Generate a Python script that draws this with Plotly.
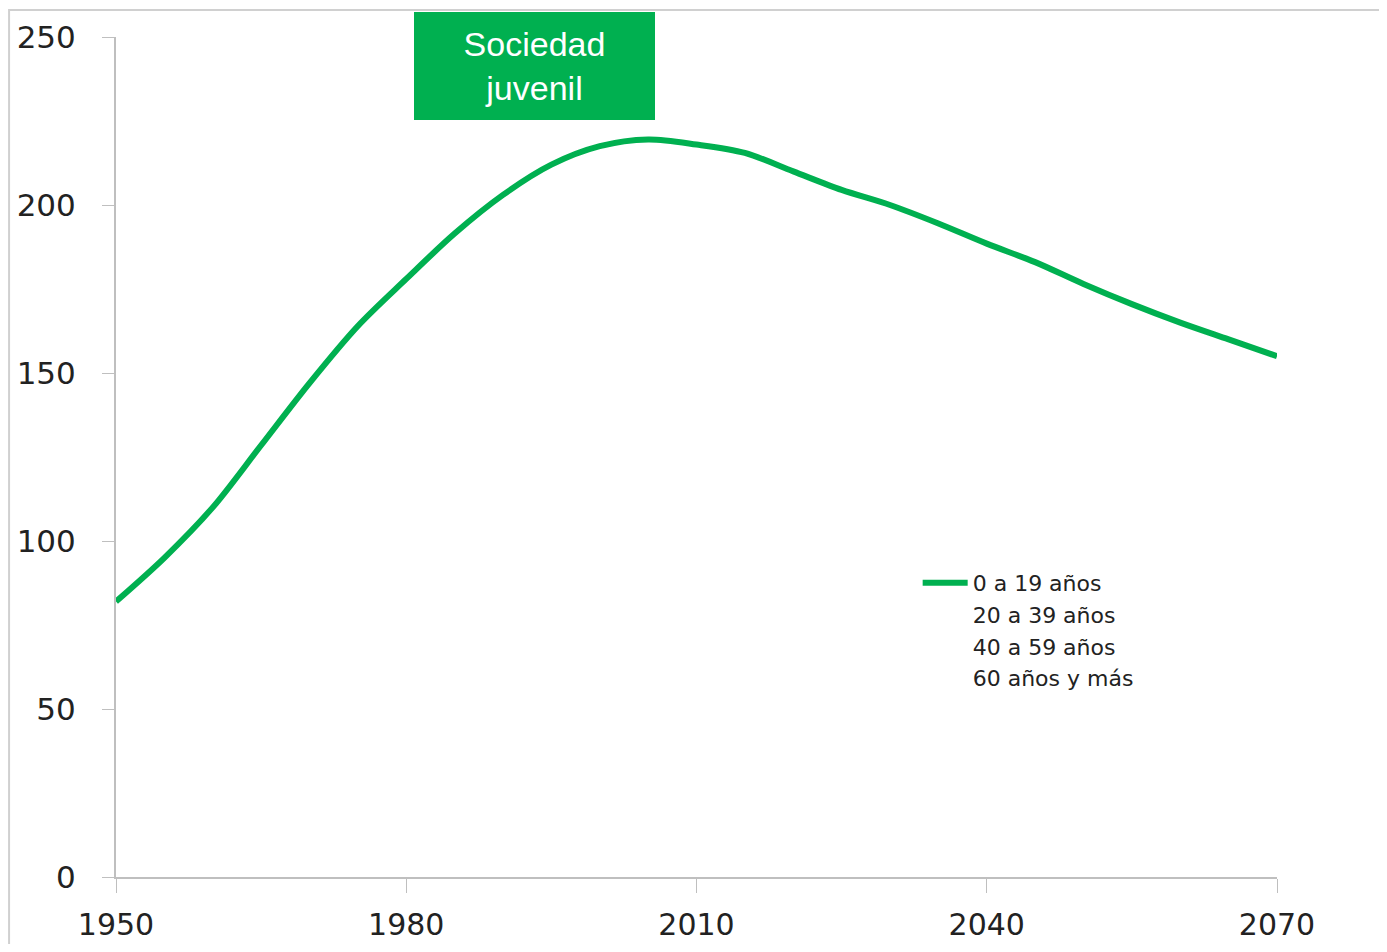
import plotly.graph_objects as go

years = [1950, 1955, 1960, 1965, 1970, 1975, 1980, 1985, 1990, 1995, 2000, 2005,
         2010, 2015, 2020, 2025, 2030, 2035, 2040, 2045, 2050, 2055, 2060, 2065, 2070]
values_0_19 = [82, 95, 110, 128.5, 147, 164, 178, 191.5, 203, 212, 217.5, 219.5,
               218, 215.5, 210, 204.5, 200, 194.5, 188.5, 183, 176.5, 170.5, 165, 160, 155]
series_names = ["0 a 19 años", "20 a 39 años", "40 a 59 años", "60 años y más"]
x_ticks = [1950, 1980, 2010, 2040, 2070]
y_ticks = [0, 50, 100, 150, 200, 250]
box_text = "Sociedad<br>juvenil"

GREEN = "rgb(0,176,80)"
AXIS_GRAY = "#BFBFBF"

fig = go.Figure()
fig.add_trace(go.Scatter(x=years, y=values_0_19, mode="lines", name=series_names[0],
                         line=dict(color=GREEN, width=6, shape="spline", smoothing=0.9)))
for nm in series_names[1:]:
    fig.add_trace(go.Scatter(x=[None], y=[None], mode="lines", name=nm,
                             line=dict(color="rgba(0,0,0,0)", width=6)))

fig.update_layout(
    width=1371, height=936,
    margin=dict(l=108, r=102, t=29, b=67, autoexpand=False),
    plot_bgcolor="white", paper_bgcolor="white",
    font=dict(family="DejaVu Sans", color="#222222"),
    showlegend=True,
    legend=dict(x=0.6905, y=0.375, xanchor="left", yanchor="top",
                font=dict(size=22, family="DejaVu Sans", color="#222222"),
                bgcolor="rgba(0,0,0,0)", tracegroupgap=0, itemwidth=45),
)
fig.update_xaxes(range=[1950, 2070], tickvals=x_ticks, ticktext=[str(v) for v in x_ticks],
                 automargin=False,
                 showgrid=False, zeroline=False, showline=True, linecolor=AXIS_GRAY, linewidth=2,
                 ticks="outside", ticklen=14, tickcolor=AXIS_GRAY, tickwidth=1,
                 tickfont=dict(size=30, family="DejaVu Sans", color="#222222"),
                 ticklabelstandoff=6)
fig.update_yaxes(range=[0, 250], tickvals=y_ticks, automargin=False,
                 showgrid=False, zeroline=False,
                 showline=True, linecolor=AXIS_GRAY, linewidth=2,
                 ticks="outside", ticklen=12, tickcolor=AXIS_GRAY, tickwidth=1,
                 tickfont=dict(size=31, family="DejaVu Sans", color="#222222"),
                 ticklabelstandoff=20)

# outer border
fig.add_shape(type="rect", xref="paper", yref="paper",
              x0=-0.0921, x1=1.2, y0=-0.2, y1=1.032,
              line=dict(color="#D0D0D0", width=2), fillcolor="rgba(0,0,0,0)", layer="below")

fig.add_annotation(xref="paper", yref="paper", x=0.3605, y=0.9655,
                   xanchor="center", yanchor="middle",
                   text=box_text, showarrow=False, width=241, height=108,
                   bgcolor=GREEN, borderpad=0, borderwidth=0,
                   font=dict(size=34, family="Liberation Sans", color="white"),
                   align="center", valign="middle")

fig.write_html("out.html")
